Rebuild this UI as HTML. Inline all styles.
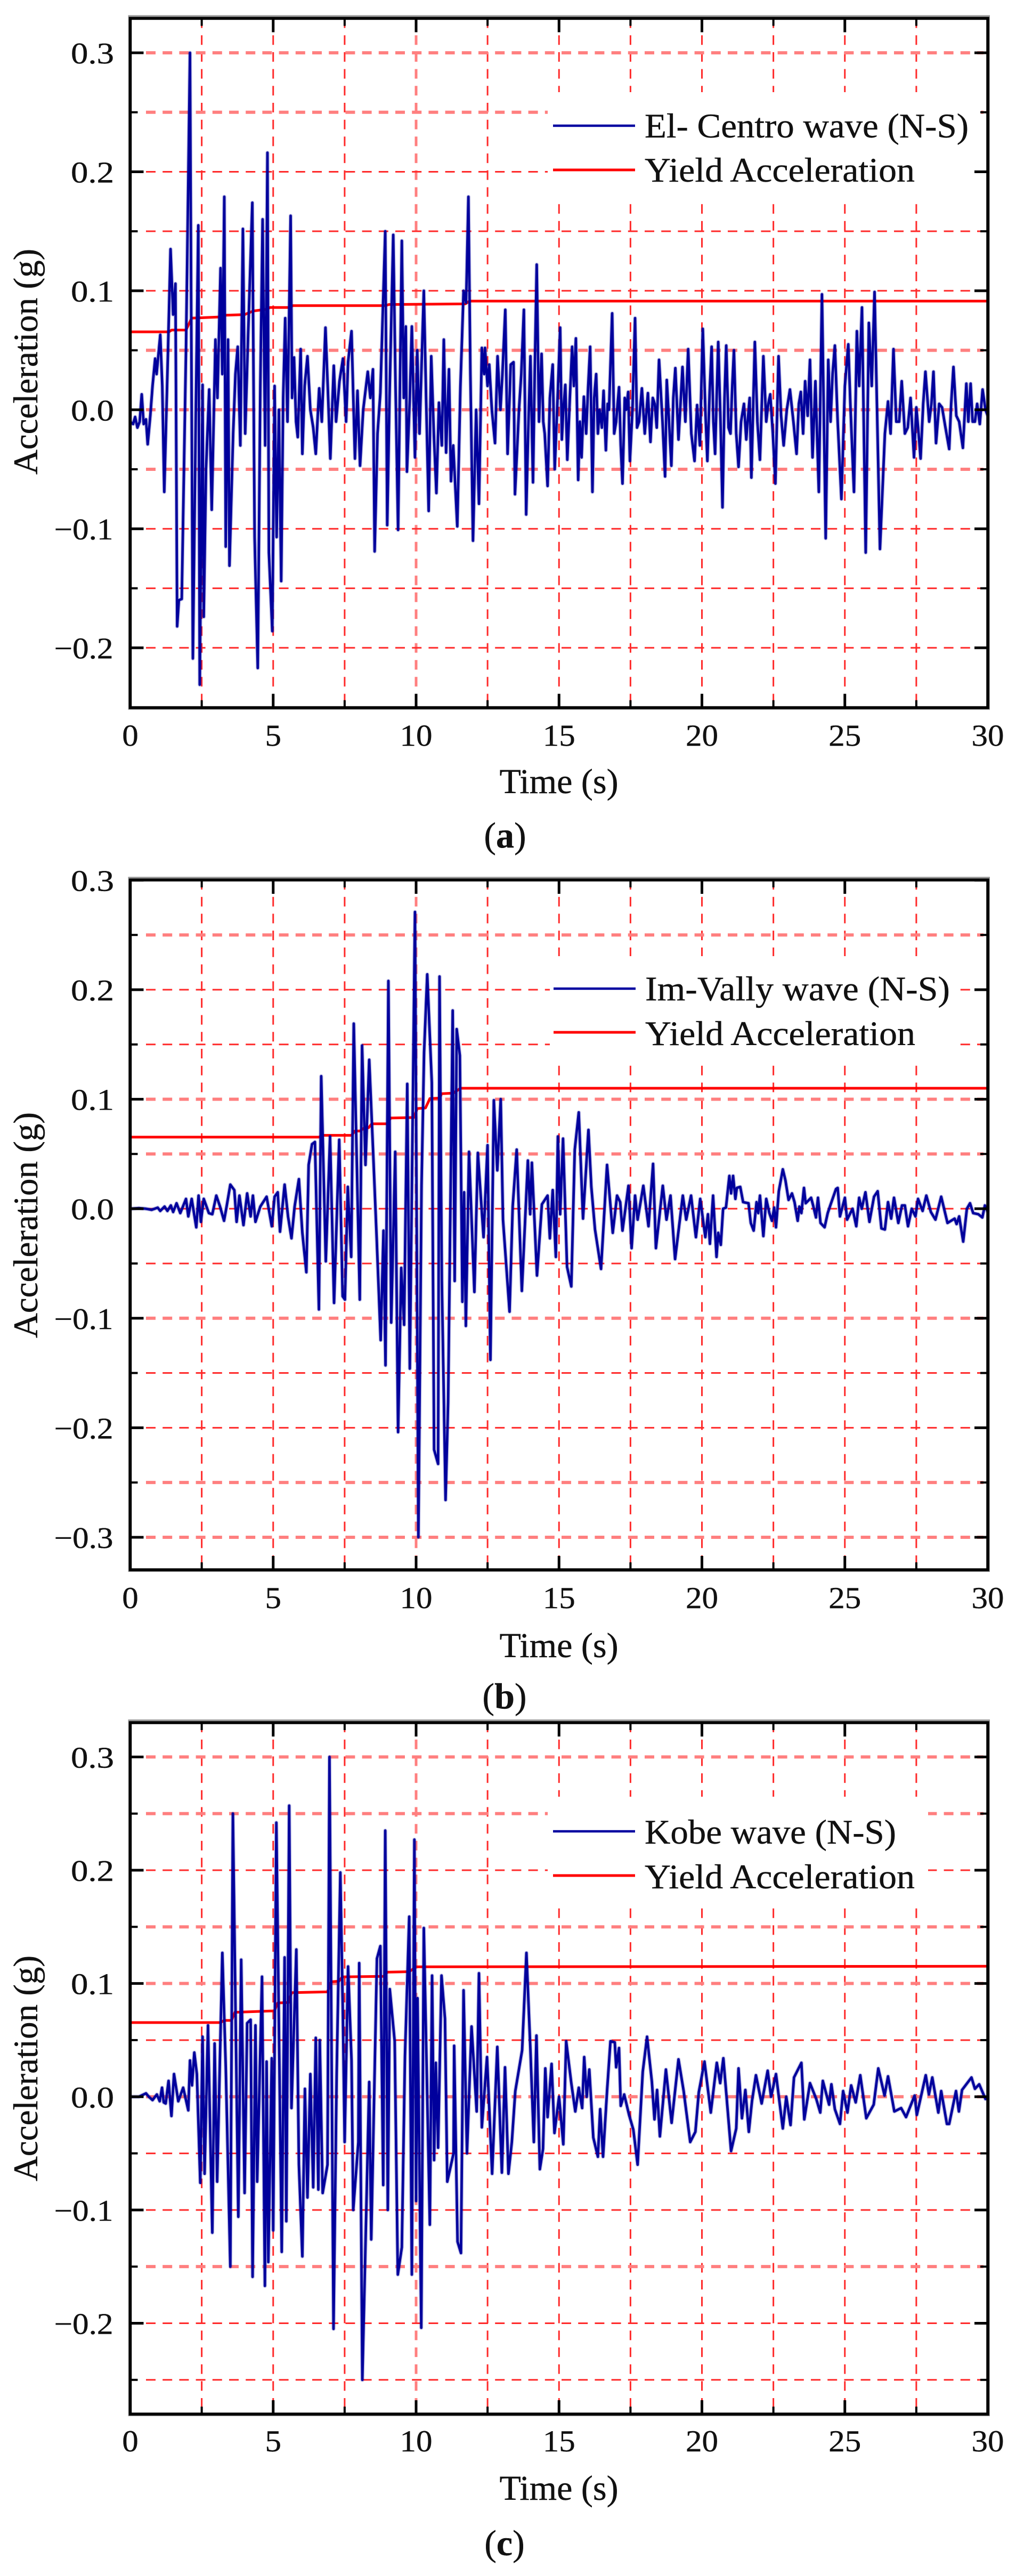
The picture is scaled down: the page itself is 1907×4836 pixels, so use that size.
<!DOCTYPE html>
<html lang="en">
<head>
<meta charset="utf-8">
<title>Seismic acceleration records and yield acceleration</title>
<style>
html,body{margin:0;padding:0;background:#fff;}
svg{display:block;}
text{font-family:"Liberation Serif","Times New Roman",serif;fill:#111;stroke:#111;stroke-width:.45;}
</style>
</head>
<body>
<svg id="figure" xmlns="http://www.w3.org/2000/svg" width="1907" height="4836" viewBox="0 0 1907 4836">
  <rect x="0" y="0" width="1907" height="4836" fill="#fff"/>

  <g>
    <g id="grid-a"></g>
    <rect x="1028" y="173" width="813" height="205" fill="#fff"/>
    <g id="plot-a"></g>
    <line x1="1038" x2="1192" y1="236" y2="236" stroke="#0000a0" stroke-width="4.5"/>
    <line x1="1038" x2="1192" y1="319" y2="319" stroke="#ff0000" stroke-width="5"/>
    <text x="1210" y="258" font-size="65" textLength="608" lengthAdjust="spacingAndGlyphs">El- Centro wave (N-S)</text>
    <text x="1210" y="341" font-size="65" textLength="507" lengthAdjust="spacingAndGlyphs">Yield Acceleration</text>
    <text transform="translate(70,679) rotate(-90)" text-anchor="middle" font-size="65">Acceleration (g)</text>
    <text x="1049" y="1489" text-anchor="middle" font-size="66">Time (s)</text>
    <text x="948" y="1591" text-anchor="middle" font-size="68">(<tspan font-weight="bold">a</tspan>)</text>
  </g>

  <g>
    <g id="grid-b"></g>
    <rect x="1032" y="1795" width="770" height="200" fill="#fff"/>
    <g id="plot-b"></g>
    <line x1="1039" x2="1193" y1="1856" y2="1856" stroke="#0000a0" stroke-width="4.5"/>
    <line x1="1039" x2="1193" y1="1938" y2="1938" stroke="#ff0000" stroke-width="5"/>
    <text x="1211" y="1878" font-size="65" textLength="572" lengthAdjust="spacingAndGlyphs">Im-Vally wave (N-S)</text>
    <text x="1211" y="1962" font-size="65" textLength="507" lengthAdjust="spacingAndGlyphs">Yield Acceleration</text>
    <text transform="translate(70,2300) rotate(-90)" text-anchor="middle" font-size="65">Acceleration (g)</text>
    <text x="1049" y="3111" text-anchor="middle" font-size="66">Time (s)</text>
    <text x="947" y="3207" text-anchor="middle" font-size="68">(<tspan font-weight="bold">b</tspan>)</text>
  </g>

  <g>
    <g id="grid-c"></g>
    <rect x="1028" y="3373" width="714" height="205" fill="#fff"/>
    <g id="plot-c"></g>
    <line x1="1038" x2="1192" y1="3438" y2="3438" stroke="#0000a0" stroke-width="4.5"/>
    <line x1="1038" x2="1192" y1="3521" y2="3521" stroke="#ff0000" stroke-width="5"/>
    <text x="1210" y="3461" font-size="65" textLength="472" lengthAdjust="spacingAndGlyphs">Kobe wave (N-S)</text>
    <text x="1210" y="3545" font-size="65" textLength="507" lengthAdjust="spacingAndGlyphs">Yield Acceleration</text>
    <text transform="translate(70,3883) rotate(-90)" text-anchor="middle" font-size="65">Acceleration (g)</text>
    <text x="1049" y="4693" text-anchor="middle" font-size="66">Time (s)</text>
    <text x="947" y="4797" text-anchor="middle" font-size="68">(<tspan font-weight="bold">c</tspan>)</text>
  </g>
</svg>

<script>
var xMajorTicks = [0, 5, 10, 15, 20, 25, 30];
var xMajorLabels = ["0", "5", "10", "15", "20", "25", "30"];
var xMinorTicks = [2.5, 7.5, 12.5, 17.5, 22.5, 27.5];

var yMajorTicksA = [0.3, 0.2, 0.1, 0, -0.1, -0.2];
var yMajorLabelsA = ["0.3", "0.2", "0.1", "0.0", "\u22120.1", "\u22120.2"];
var yMinorTicksA = [0.25, 0.15, 0.05, -0.05, -0.15];

var yMajorTicksB = [0.3, 0.2, 0.1, 0, -0.1, -0.2, -0.3];
var yMajorLabelsB = ["0.3", "0.2", "0.1", "0.0", "\u22120.1", "\u22120.2", "\u22120.3"];
var yMinorTicksB = [0.25, 0.15, 0.05, -0.05, -0.15, -0.25];

var yMajorTicksC = [0.3, 0.2, 0.1, 0, -0.1, -0.2];
var yMajorLabelsC = ["0.3", "0.2", "0.1", "0.0", "\u22120.1", "\u22120.2"];
var yMinorTicksC = [0.25, 0.15, 0.05, -0.05, -0.15, -0.25];

var elCentroTimes = [
0,.1,.17,.25,.33,.4,.47,.55,.61,.7,
.78,.87,.92,1,1.05,1.12,1.19,1.3,1.41,1.5,
1.58,1.64,1.7,1.8,1.95,2.09,2.19,2.3,2.38,2.43,
2.53,2.57,2.65,2.76,2.85,2.98,3.05,3.16,3.22,3.29,
3.34,3.42,3.47,3.6,3.68,3.76,3.85,3.94,4.02,4.12,
4.2,4.27,4.35,4.46,4.55,4.63,4.72,4.8,4.85,4.97,
5.05,5.12,5.2,5.28,5.35,5.42,5.5,5.61,5.66,5.73,
5.8,5.86,5.96,6.02,6.1,6.2,6.3,6.4,6.49,6.61,
6.7,6.83,6.92,7,7.12,7.2,7.32,7.44,7.55,7.62,
7.74,7.86,7.95,8.04,8.15,8.31,8.4,8.49,8.55,8.65,
8.75,8.92,8.99,9.07,9.2,9.28,9.37,9.5,9.57,9.64,
9.68,9.78,9.85,9.96,10.04,10.12,10.27,10.35,10.44,10.53,
10.62,10.71,10.8,10.9,10.97,11.05,11.15,11.22,11.3,11.44,
11.55,11.66,11.75,11.83,11.9,11.99,12.1,12.2,12.3,12.38,
12.41,12.5,12.56,12.65,12.76,12.85,12.95,13.02,13.12,13.2,
13.31,13.41,13.46,
13.6,13.68,13.77,13.85,13.92,14,14.09,14.15,14.22,14.3,
14.39,14.45,14.5,14.6,14.68,14.78,14.85,14.95,15.04,15.1,
15.15,15.22,15.29,15.38,15.46,15.52,15.59,15.67,15.73,15.79,
15.87,15.95,16.02,16.09,16.17,16.23,16.3,16.36,16.42,16.5,
16.56,16.64,16.7,16.75,16.86,16.93,17,17.1,17.16,17.22,
17.3,17.35,17.42,17.48,17.57,17.66,17.73,17.8,17.9,18,
18.11,18.2,18.28,18.35,18.42,18.5,18.62,18.71,18.77,18.85,
18.93,19,19.07,19.18,19.25,19.32,19.42,19.52,19.63,19.74,
19.83,19.93,20.03,20.12,20.19,20.27,20.34,20.4,20.46,20.57,
20.65,20.72,20.79,20.85,20.93,21,21.06,21.12,21.2,21.28,
21.37,21.47,21.55,21.6,21.67,21.73,21.85,21.94,22.03,22.15,
22.25,22.32,22.39,22.48,22.57,22.68,22.77,22.86,22.97,23.08,
23.2,23.31,23.39,23.46,23.54,23.61,23.7,23.78,23.87,23.97,
24.09,24.2,24.33,24.42,24.5,24.57,24.65,24.75,24.88,25,
25.12,25.2,25.32,25.42,25.5,25.6,25.73,25.84,25.94,26.04,
26.23,26.4,26.51,26.6,26.7,26.8,26.9,26.99,27.1,27.2,
27.3,27.42,27.5,27.58,27.65,27.74,27.82,27.95,28.03,28.1,
28.19,28.3,28.4,28.52,28.65,28.72,28.8,28.9,29,29.13,
29.25,29.32,29.4,29.47,29.55,29.63,29.72,29.82,29.92,30];
var elCentroAccel = [
-.01,-.012,-.006,-.015,-.01,.013,-.012,-.008,-.029,-.005,
.02,.043,.03,.05,.063,.02,-.069,.03,.135,.08,
.106,-.182,-.16,-.159,.05,.3,-.209,.01,.155,-.231,
.021,-.174,-.05,.017,-.084,.059,.01,.119,.03,.179,
-.115,.059,-.131,-.02,.03,.053,-.03,.152,-.02,.06,
.12,.174,-.107,-.217,.02,.16,-.03,.216,-.12,-.186,
.02,-.107,0,-.144,.01,.077,-.01,.163,.01,.044,
-.01,-.023,.051,-.037,.02,.045,0,-.015,-.037,.018,
-.01,.069,.012,-.041,.037,-.01,.024,.043,-.01,.04,
.066,-.041,.016,-.047,0,.032,.01,.034,-.119,-.02,
.014,.15,-.097,.01,.147,.02,-.101,.142,.01,.07,
-.052,.01,.07,-.04,.05,-.02,.1,.01,-.085,.045,
-.02,-.07,.006,-.03,.059,-.036,.034,-.06,-.03,-.098,
.02,.1,.09,.179,.03,-.11,0,-.079,.052,.03,
.052,.02,.038,0,-.028,.045,0,.03,.084,-.037,
.038,.04,-.071,
0,.03,.084,-.088,-.02,.045,-.061,.03,.122,-.01,
.047,-.01,-.02,-.064,.01,.038,-.05,.01,.069,-.025,
0,.021,-.042,.01,.053,.02,.06,-.059,-.01,-.04,
.011,-.02,.02,.053,-.069,.01,.03,-.02,0,-.015,
.016,-.034,.005,0,.081,-.02,-.01,.019,-.03,-.062,
.01,0,.015,-.043,0,.077,-.015,-.01,.018,-.02,
.014,-.027,.01,.005,-.015,.042,-.01,-.056,.025,-.01,
-.047,.01,.035,-.025,.005,.036,-.01,.051,-.02,-.043,
.004,-.03,.068,0,-.043,.015,.053,-.01,-.037,.057,
-.01,-.082,.01,.054,-.015,-.02,.02,.05,-.02,-.048,
-.01,.005,-.025,-.01,.01,-.057,.057,-.01,-.042,.045,
-.01,.005,.013,-.02,-.062,.045,-.005,-.03,0,.017,
-.01,-.037,.005,.015,-.02,.024,-.005,.042,-.04,.024,
-.069,.097,-.108,.042,-.01,.03,.054,-.01,-.075,.02,
.055,0,-.069,.066,.02,.086,-.12,.073,.02,.099,
-.117,-.02,.007,-.02,.051,-.01,-.01,.024,-.02,-.015,
.01,-.04,.002,-.02,-.041,.005,.032,-.01,.005,.032,
-.028,.005,.002,-.015,-.033,.005,.036,-.005,-.01,-.032,
.022,-.01,.022,-.01,-.01,.005,-.012,.017,0,-.005];
var yieldTimesA = [0,1.35,1.45,1.95,2.15,3.16,3.34,4,4.3,4.77,4.89,5.6,5.68,8.93,9.05,11.72,11.87,30];
var yieldAccelA = [.0655,.0655,.067,.067,.077,.078,.0795,.08,.083,.0845,.086,.086,.0875,.0875,.0885,.089,.0913,.0913];

var imVallyTimes = [
0,.3,.55,.75,.96,1.05,1.2,1.3,1.42,1.5,
1.62,1.75,1.95,2.03,2.15,2.31,2.39,2.47,2.57,2.75,
2.87,3.01,3.14,3.28,3.37,3.5,3.64,3.72,3.82,3.96,
4.09,4.21,4.29,4.38,4.55,4.77,4.95,5.05,5.16,5.24,
5.4,5.52,5.64,5.75,5.9,6.02,6.16,6.24,6.36,6.46,
6.6,6.68,6.84,6.99,7.13,7.31,7.43,7.51,7.61,7.73,
7.82,8.03,8.11,8.23,8.36,8.5,8.62,8.76,8.86,8.93,
9.03,9.13,9.27,9.37,9.48,9.58,9.69,9.78,9.87,9.96,
10.08,10.19,10.28,10.39,10.55,10.63,10.77,10.82,10.9,11.03,
11.12,11.28,11.35,11.42,11.53,11.62,11.68,11.74,11.85,12.04,
12.16,12.36,12.5,12.6,12.72,12.84,12.96,13.04,13.27,13.38,
13.52,13.7,13.91,13.99,14.05,14.23,14.4,14.6,14.68,14.78,
14.89,14.96,15.04,15.14,15.28,15.43,15.55,15.69,15.84,16.03,
16.13,16.26,16.47,16.68,16.88,17.03,17.14,17.22,17.43,17.54,
17.66,17.75,17.95,18.13,18.29,18.39,18.63,18.76,18.9,19.06,
19.33,19.45,19.62,19.79,19.94,20.12,20.21,20.28,20.39,20.51,
20.57,20.66,20.74,20.84,20.96,21.02,21.09,21.17,21.22,21.34,
21.44,21.63,21.71,21.81,21.91,21.97,22.03,22.15,22.25,22.36,
22.45,22.53,22.59,22.69,22.83,22.92,23.03,23.15,23.24,23.35,
23.41,23.48,23.57,23.63,23.82,23.89,23.99,24.06,24.15,24.29,
24.4,24.49,24.69,24.75,24.83,25,25.08,25.27,25.4,25.5,
25.59,25.72,25.86,26.02,26.15,26.28,26.4,26.51,26.62,26.72,
26.87,27,27.1,27.21,27.34,27.47,27.56,27.72,27.85,28.01,
28.17,28.37,28.59,28.84,28.91,29,29.14,29.27,29.38,29.49,
29.67,29.81,29.9,30];
var imVallyAccel = [
0,.0005,0,-.001,.001,-.002,.002,-.002,.003,-.003,
.005,-.004,.009,-.007,.009,-.017,.012,-.012,.009,-.004,
-.005,.012,.002,-.011,.002,.022,.017,-.012,.012,-.015,
.014,-.007,.012,-.012,.002,.011,-.016,.011,.015,-.021,
.022,-.007,-.027,.002,.027,-.022,-.058,.04,.059,.061,
-.092,.121,-.048,.066,-.086,.063,-.08,-.083,.02,-.044,
.169,-.083,.149,.04,.136,.05,-.027,-.12,-.02,-.143,
.208,-.104,.052,-.204,-.054,-.106,.114,-.146,.059,.271,
-.3,.021,.143,.214,.115,-.22,-.233,.212,-.066,-.266,
-.177,.181,-.066,.164,.14,-.085,.015,-.107,.052,-.076,
.051,-.026,.058,-.138,.099,.035,.1,-.01,-.094,.002,
.054,-.075,.044,-.005,.042,-.061,.004,.012,-.027,.017,
-.044,.066,-.005,.064,-.053,-.071,.054,.088,-.009,.072,
.02,-.019,-.055,.04,-.022,.012,.006,-.02,.021,-.036,
.012,-.01,.021,-.016,.041,-.036,.021,-.01,.012,-.046,
.012,-.01,.012,-.026,.009,-.026,-.005,-.032,.012,-.044,
-.022,-.033,0,.001,.03,.014,.03,.009,.019,.02,
.006,.005,-.013,-.02,.006,-.004,.012,-.025,.009,-.004,
-.011,.001,-.017,.016,.036,.026,.008,.014,.006,-.011,
.002,-.004,.019,.005,.01,.003,-.008,.01,-.013,-.017,
-.004,.003,.018,.019,-.007,.01,-.01,0,-.016,.01,
0,.015,-.012,.011,.016,-.018,-.019,.006,-.009,.01,
-.013,.003,.003,-.016,0,-.007,.009,-.002,.012,-.003,
-.01,.011,-.013,-.009,-.014,-.007,-.03,0,.005,-.004,
-.005,-.008,.003,-.003];
var yieldTimesB = [0,6.6,6.73,7.74,7.86,8.04,8.16,8.34,8.45,8.99,9.11,9.92,10.04,10.33,10.48,10.83,10.89,11.31,11.55,30];
var yieldAccelB = [.0654,.0654,.067,.067,.071,.071,.0733,.074,.0775,.0775,.0828,.0833,.0915,.092,.1006,.101,.105,.1056,.11,.11];

var kobeTimes = [
0,.3,.55,.65,.78,.93,1.03,1.11,1.17,1.24,
1.34,1.44,1.53,1.68,1.85,2.03,2.09,2.16,2.24,2.33,
2.45,2.53,2.6,2.72,2.87,2.95,3.04,3.22,3.34,3.5,
3.59,3.78,3.88,4,4.09,4.21,4.28,4.38,4.44,4.61,
4.71,4.77,4.83,4.95,5,5.11,5.3,5.4,5.46,5.56,
5.64,5.81,5.9,6.02,6.11,6.2,6.3,6.4,6.49,6.58,
6.63,6.73,6.9,6.97,7.11,7.22,7.35,7.44,7.5,7.62,
7.74,7.8,7.98,8.01,8.12,8.28,8.36,8.43,8.63,8.75,
8.85,8.92,9.01,9.08,9.25,9.36,9.5,9.61,9.76,9.85,
9.94,10,10.05,10.18,10.27,10.48,10.56,10.63,10.69,10.77,
10.89,11.01,11.09,11.31,11.33,11.45,11.57,11.66,11.78,11.94,
12.12,12.2,12.3,12.48,12.66,12.84,13,13.11,13.23,13.35,
13.47,13.59,13.71,13.86,14,14.12,14.21,14.33,14.44,14.52,
14.6,14.74,14.84,15,15.15,15.25,15.43,15.57,15.69,15.81,
15.88,15.97,16.06,16.2,16.36,16.44,16.54,16.68,16.8,16.95,
17,17.1,17.16,17.28,17.45,17.6,17.75,17.93,18.08,18.25,
18.34,18.43,18.53,18.74,18.94,19.18,19.36,19.59,19.77,19.89,
20.09,20.31,20.52,20.64,20.75,21.02,21.2,21.28,21.4,21.52,
21.64,21.75,21.89,22.09,22.3,22.42,22.59,22.83,22.95,23.1,
23.22,23.48,23.58,23.78,24,24.14,24.23,24.45,24.53,24.65,
24.83,24.94,25.09,25.22,25.38,25.54,25.75,26.01,26.17,26.39,
26.51,26.73,26.97,27.14,27.44,27.52,27.83,27.94,28.06,28.27,
28.37,28.57,28.65,28.89,28.99,29.1,29.43,29.55,29.7,29.92,
30];
var kobeAccel = [
0,0,.003,0,-.003,.002,-.004,.008,-.005,-.006,
.014,-.017,.02,-.004,.008,-.012,.032,.01,.039,.02,
-.076,.053,-.068,.063,-.12,.047,-.075,.127,.027,-.15,
.25,-.106,.121,-.085,.065,.068,-.159,.063,-.075,.106,
-.167,.031,-.146,.034,-.118,.242,-.137,.123,-.11,.257,
-.01,.13,-.06,-.141,.007,-.089,.02,-.08,.052,-.082,
.05,-.085,-.06,.3,-.205,.02,.198,.068,-.04,.115,
.032,-.1,-.04,.118,-.25,-.076,.013,-.126,.122,.133,
-.078,.235,-.1,.095,.049,-.157,-.133,.036,.159,-.157,
.227,-.092,.087,-.204,.149,-.113,.107,-.056,.03,-.045,
.107,.069,-.075,-.05,.045,-.128,-.138,.094,-.05,.062,
-.013,.109,-.027,.035,-.068,.044,-.067,.026,-.068,-.04,
.005,.023,.041,.127,.041,-.04,.054,-.064,-.046,.025,
-.018,.029,-.032,0,-.042,.049,.012,-.013,.008,-.01,
.035,0,.024,-.036,-.053,-.011,-.053,.005,.049,.048,
.026,.043,-.008,.002,-.016,-.029,-.06,.022,.053,.013,
-.02,.006,-.035,.024,-.023,.033,.005,-.04,-.031,.004,
.031,-.014,.03,.012,.034,-.048,-.028,.025,-.019,.006,
-.031,-.004,.019,-.006,.023,0,.02,-.028,0,-.025,
.017,.03,-.02,.012,-.002,-.014,.014,-.007,.011,-.011,
-.024,.005,-.014,.01,-.005,.019,-.019,-.007,.025,.001,
.018,-.013,-.01,-.018,.001,-.016,.019,.002,.017,-.014,
.005,-.024,-.024,.005,-.013,.006,.017,.007,.011,-.002,
0];
var yieldTimesC = [0,3.16,3.28,3.54,3.66,5.04,5.16,5.54,5.64,6.9,7.03,7.3,7.42,8.87,8.99,9.76,10,30];
var yieldAccelC = [.0655,.0655,.0674,.0674,.0746,.0758,.0828,.0833,.0919,.0926,.1015,.102,.1058,.1063,.11,.1104,.1147,.1152];

var SVGNS = "http://www.w3.org/2000/svg";

function make(parent, tag, attrs) {
  var el = document.createElementNS(SVGNS, tag);
  for (var k in attrs) { el.setAttribute(k, attrs[k]); }
  parent.appendChild(el);
  return el;
}

function near(a, list) {
  for (var i = 0; i < list.length; i++) { if (Math.abs(list[i] - a) < 1e-6) return true; }
  return false;
}

function drawChart(c) {
  var left = 244.5, right = 1854;
  function xScale(t) { return left + (t / 30) * (right - left); }
  function yScale(v) { return c.top + (c.vTop - v) / (c.vTop - c.vBottom) * (c.bottom - c.top); }

  var grid = document.getElementById(c.gridId);
  var plot = document.getElementById(c.plotId);
  var el, i;

  var xGridValues = xMajorTicks.concat(xMinorTicks);
  for (i = 0; i < xGridValues.length; i++) {
    var gx = xGridValues[i];
    if (gx === 0 || gx === 30) continue;
    var paleV = near(gx, c.paleX);
    el = make(grid, "line", {
      x1: xScale(gx), x2: xScale(gx), y1: c.top, y2: c.bottom,
      stroke: paleV ? "#ff7f7f" : "#ff2a2a",
      "stroke-width": paleV ? 5 : 3,
      "stroke-dasharray": "18 13.7"
    });
    
    
  }

  var yGridValues = c.yMajor.concat(c.yMinor);
  for (i = 0; i < yGridValues.length; i++) {
    var gv = yGridValues[i];
    var gy = yScale(gv);
    if (Math.abs(gy - c.top) < 8 || Math.abs(gy - c.bottom) < 8) continue;
    var paleH = near(gv, c.paleY);
    el = make(grid, "line", {
      x1: 274, x2: 1846, y1: gy, y2: gy,
      stroke: paleH ? "#ff7f7f" : "#ff2a2a",
      "stroke-width": paleH ? 6 : 3,
      "stroke-dasharray": "18 13.2"
    });
    
    
  }

  function toPoints(ts, vs) {
    var pts = [], n = Math.min(ts.length, vs.length);
    for (var j = 0; j < n; j++) {
      pts.push(xScale(ts[j]).toFixed(1) + "," + yScale(vs[j]).toFixed(1));
    }
    return pts.join(" ");
  }

  el = make(plot, "polyline", {
    points: toPoints(c.yieldTimes, c.yieldAccel),
    fill: "none", stroke: "#ff0000", "stroke-width": 5, "stroke-linejoin": "round"
  });
  
  

  el = make(plot, "polyline", {
    points: toPoints(c.waveTimes, c.waveAccel),
    fill: "none", stroke: "#00009c", "stroke-opacity": 0.25, "stroke-width": 7.5, "stroke-linejoin": "round"
  });
  
  

  el = make(plot, "polyline", {
    points: toPoints(c.waveTimes, c.waveAccel),
    fill: "none", stroke: "#00009c", "stroke-width": 4.6, "stroke-linejoin": "round"
  });
  
  

  for (i = 0; i < xMajorTicks.length; i++) {
    var mx = xScale(xMajorTicks[i]);
    if (i > 0 && i < xMajorTicks.length - 1) {
      el = make(plot, "line", { x1: mx, x2: mx, y1: c.bottom, y2: c.bottom - 26, stroke: "#000", "stroke-width": 5 });
      
      
      el = make(plot, "line", { x1: mx, x2: mx, y1: c.top, y2: c.top + 26, stroke: "#000", "stroke-width": 5 });
      
      
    }
    var xw = xMajorLabels[i].length * 30.5;
    el = make(plot, "text", {
      x: mx, y: c.xLabelY, "text-anchor": "middle", "font-size": 57,
      textLength: xw, lengthAdjust: "spacingAndGlyphs"
    });
    
    
    el.textContent = xMajorLabels[i];
  }
  for (i = 0; i < xMinorTicks.length; i++) {
    var nx = xScale(xMinorTicks[i]);
    el = make(plot, "line", { x1: nx, x2: nx, y1: c.bottom, y2: c.bottom - 14, stroke: "#000", "stroke-width": 4 });
    
    
    el = make(plot, "line", { x1: nx, x2: nx, y1: c.top, y2: c.top + 14, stroke: "#000", "stroke-width": 4 });
    
    
  }

  for (i = 0; i < c.yMajor.length; i++) {
    var my = yScale(c.yMajor[i]);
    el = make(plot, "line", { x1: left, x2: left + 25, y1: my, y2: my, stroke: "#000", "stroke-width": 5 });
    
    
    el = make(plot, "line", { x1: right, x2: right - 25, y1: my, y2: my, stroke: "#000", "stroke-width": 5 });
    
    
    var lab = c.yLabels[i];
    var neg = lab.charAt(0) === "\u2212";
    el = make(plot, "text", {
      x: neg ? 212.5 : 214, y: my + 20, "text-anchor": "end", "font-size": 56,
      textLength: neg ? 111 : 81, lengthAdjust: "spacingAndGlyphs"
    });
    
    
    el.textContent = lab;
  }
  for (i = 0; i < c.yMinor.length; i++) {
    var ny = yScale(c.yMinor[i]);
    el = make(plot, "line", { x1: left, x2: left + 14, y1: ny, y2: ny, stroke: "#000", "stroke-width": 4 });
    
    
    el = make(plot, "line", { x1: right, x2: right - 14, y1: ny, y2: ny, stroke: "#000", "stroke-width": 4 });
    
    
  }

  el = make(plot, "rect", {
    x: left - 1, y: c.top - 3, width: right - left + 2, height: c.bottom - c.top + 4,
    fill: "none", stroke: "#000", "stroke-opacity": 0.4, "stroke-width": 6
  });
  
  
  el = make(plot, "rect", {
    x: left, y: c.top, width: right - left, height: c.bottom - c.top,
    fill: "none", stroke: "#000", "stroke-width": 5.5
  });
  
  
}

drawChart({
  gridId: "grid-a", plotId: "plot-a",
  top: 34.5, bottom: 1328.5, vTop: 0.3289, vBottom: -0.2503, xLabelY: 1400,
  yMajor: yMajorTicksA, yLabels: yMajorLabelsA, yMinor: yMinorTicksA,
  paleX: [10], paleY: [0.3, 0.25, 0.05, 0, -0.05],
  waveTimes: elCentroTimes, waveAccel: elCentroAccel,
  yieldTimes: yieldTimesA, yieldAccel: yieldAccelA
});
drawChart({
  gridId: "grid-b", plotId: "plot-b",
  top: 1652, bottom: 2947, vTop: 0.3002, vBottom: -0.3297, xLabelY: 3019,
  yMajor: yMajorTicksB, yLabels: yMajorLabelsB, yMinor: yMinorTicksB,
  paleX: [10], paleY: [0.25, 0.1, 0.05, -0.1, -0.25, -0.3],
  waveTimes: imVallyTimes, waveAccel: imVallyAccel,
  yieldTimes: yieldTimesB, yieldAccel: yieldAccelB
});
drawChart({
  gridId: "grid-c", plotId: "plot-c",
  top: 3234, bottom: 4532, vTop: 0.3303, vBottom: -0.2802, xLabelY: 4602,
  yMajor: yMajorTicksC, yLabels: yMajorLabelsC, yMinor: yMinorTicksC,
  paleX: [10], paleY: [0.3, 0.25, 0.15, 0.1, 0, -0.15],
  waveTimes: kobeTimes, waveAccel: kobeAccel,
  yieldTimes: yieldTimesC, yieldAccel: yieldAccelC
});
</script>
</body>
</html>
